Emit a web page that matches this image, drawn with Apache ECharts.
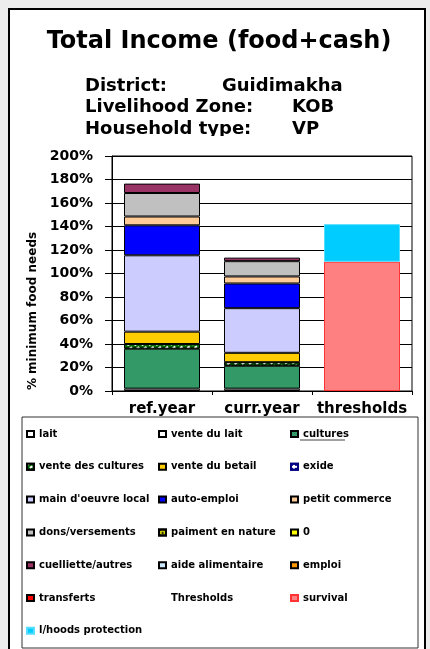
<!DOCTYPE html>
<html>
<head>
<meta charset="utf-8">
<style>
  html, body { margin: 0; padding: 0; background: #ececec; }
  #main { width: 430px; height: 649px; }
</style>
</head>
<body>
<div id="main"></div>
<script src="https://cdn.jsdelivr.net/npm/echarts@6/dist/echarts.min.js"></script>
<script type="text/javascript">

    // categories
    var categories = ['ref.year', 'curr.year', 'thresholds'];
    var yTicks = [0, 20, 40, 60, 80, 100, 120, 140, 160, 180, 200];

    // series values (% minimum food needs)
    var lait              = [2, 2, 0];
    var venteDuLait       = [0, 0, 0];
    var cultures          = [34, 19.5, 0];
    var venteDesCultures  = [4, 3, 0];
    var venteDuBetail     = [10.5, 8, 0];
    var exide             = [0, 0, 0];
    var mainOeuvreLocal   = [65, 38, 0];
    var autoEmploi        = [25.5, 21, 0];
    var petitCommerce     = [7.5, 6, 0];
    var donsVersements    = [20, 13, 0];
    var paimentEnNature   = [0, 0, 0];
    var zero              = [0, 0, 0];
    var cuelliette        = [8, 3, 0];
    var aideAlimentaire   = [0, 0, 0];
    var emploi            = [0, 0, 0];
    var transferts        = [0, 0, 0];
    var survival          = [0, 0, 110];
    var lhoodsProtection  = [0, 0, 32];

    var FONT = 'DejaVu Sans';

    // empty segments are not drawn
    function clean(arr){
        return arr.map(function(v){ return v === 0 ? '-' : v; });
    }

    function bar(name, data, color, extra){
        var s = {
            name: name,
            type: 'bar',
            stack: 'total',
            barCategoryGap: '24%',
            data: clean(data),
            itemStyle: { color: color, borderColor: '#000', borderWidth: 1 }
        };
        if (extra) {
            for (var k in extra) s.itemStyle[k] = extra[k];
        }
        return s;
    }

    var series = [
        bar('lait', lait, '#ffffff'),
        bar('vente du lait', venteDuLait, '#ffffff'),
        bar('cultures', cultures, '#339966'),
        bar('vente des cultures', venteDesCultures, '#006600', {
            decal: { symbol: 'rect', symbolSize: 1, color: '#ffffff', dashArrayX: [[3, 3]], dashArrayY: [2, 2], rotation: -0.6 }
        }),
        bar('vente du betail', venteDuBetail, '#ffcc00'),
        bar('exide', exide, '#ffffff', { borderColor: '#000080',
            decal: { symbol: 'rect', symbolSize: 1, color: '#000080', dashArrayX: [[2, 2]], dashArrayY: [2, 2] }
        }),
        bar("main d'oeuvre local", mainOeuvreLocal, '#ccccff'),
        bar('auto-emploi', autoEmploi, '#0000ff'),
        bar('petit commerce', petitCommerce, '#ffcc99'),
        bar('dons/versements', donsVersements, '#c0c0c0'),
        bar('paiment en nature', paimentEnNature, '#cccc00', {
            decal: { symbol: 'rect', symbolSize: 1, color: '#333300', dashArrayX: [[2, 2]], dashArrayY: [2, 2], rotation: -0.6 }
        }),
        bar('0', zero, '#ffff00'),
        bar('cuelliette/autres', cuelliette, '#993366'),
        bar('aide alimentaire', aideAlimentaire, '#cce8ff'),
        bar('emploi', emploi, '#ff9900'),
        bar('transferts', transferts, '#ff0000'),
        { name: 'Thresholds', type: 'bar', stack: 'total', data: [] },
        bar('survival', survival, '#ff8080', { borderColor: '#ff3333' }),
        bar('l/hoods protection', lhoodsProtection, '#00ccff', { borderColor: '#55ddff' })
    ];

    var legendText = { fontFamily: FONT, fontWeight: 'bold', fontSize: 10, color: '#000', lineHeight: 12 };
    function legendCol(left, names){
        return {
            orient: 'vertical',
            left: left,
            top: 428,
            padding: 0,
            itemGap: 20.8,
            itemWidth: 7,
            itemHeight: 6,
            textStyle: legendText,
            selectedMode: false,
            data: names.map(function(n){
                return n === 'Thresholds' ? { name: n, icon: 'none' } : { name: n, icon: 'rect' };
            })
        };
    }

    var myChart = echarts.init(document.getElementById('main'));

    var option = {
        backgroundColor: '#ececec',
        animation: false,
        grid: {
            left: 112, right: 18, top: 156, bottom: 258,
            show: true, backgroundColor: '#ffffff', borderColor: '#000', borderWidth: 1
        },
        xAxis: {
            type: 'category',
            data: categories,
            axisLine: { lineStyle: { color: '#000', width: 1 } },
            axisTick: { show: true, length: 4, lineStyle: { color: '#000' } },
            axisLabel: { interval: 0, hideOverlap: false, margin: 11, fontFamily: FONT, fontWeight: 'bold', fontSize: 15, color: '#000' }
        },
        yAxis: {
            type: 'value',
            min: yTicks[0],
            max: yTicks[yTicks.length - 1],
            interval: 20,
            axisLine: { show: true, lineStyle: { color: '#000', width: 1 } },
            axisTick: { show: true, length: 7, lineStyle: { color: '#000' } },
            splitLine: { lineStyle: { color: '#000', width: 1 } },
            axisLabel: {
                margin: 19, fontFamily: FONT, fontWeight: 'bold', fontSize: 14, color: '#000',
                formatter: function(v){ return v + '%'; }
            }
        },
        legend: [
            legendCol(26, ['lait', 'vente des cultures', "main d'oeuvre local", 'dons/versements', 'cuelliette/autres', 'transferts', 'l/hoods protection']),
            legendCol(158, ['vente du lait', 'vente du betail', 'auto-emploi', 'paiment en nature', 'aide alimentaire', 'Thresholds']),
            legendCol(290, ['cultures', 'exide', 'petit commerce', '0', 'emploi', 'survival'])
        ],
        graphic: [
            // chart frame
            { type: 'rect', z: -10, silent: true, shape: { x: 9, y: 9, width: 416, height: 660 },
              style: { fill: '#ffffff', stroke: '#000', lineWidth: 2 } },
            // legend box
            { type: 'rect', z: -5, silent: true, shape: { x: 22, y: 417, width: 396, height: 231 },
              style: { fill: '#ffffff', stroke: '#333', lineWidth: 1 } },
            // title
            { type: 'text', x: 219, y: 42, style: { text: 'Total Income (food+cash)', font: 'bold 24px "DejaVu Sans"', fill: '#000', textAlign: 'center', textVerticalAlign: 'middle' } },
            { type: 'text', x: 85, y: 86, style: { text: 'District:', font: 'bold 18px "DejaVu Sans"', fill: '#000', textVerticalAlign: 'middle' } },
            { type: 'text', x: 222, y: 86, style: { text: 'Guidimakha', font: 'bold 18px "DejaVu Sans"', fill: '#000', textVerticalAlign: 'middle' } },
            { type: 'text', x: 85, y: 107.5, style: { text: 'Livelihood Zone:', font: 'bold 18px "DejaVu Sans"', fill: '#000', textVerticalAlign: 'middle' } },
            { type: 'text', x: 292, y: 107.5, style: { text: 'KOB', font: 'bold 18px "DejaVu Sans"', fill: '#000', textVerticalAlign: 'middle' } },
            { type: 'text', x: 85, y: 129.5, style: { text: 'Household type:', font: 'bold 18px "DejaVu Sans"', fill: '#000', textVerticalAlign: 'middle' } },
            { type: 'text', x: 292, y: 129.5, style: { text: 'VP', font: 'bold 18px "DejaVu Sans"', fill: '#000', textVerticalAlign: 'middle' } },
            // subtitle text box clip
            { type: 'rect', z: 10, silent: true, shape: { x: 80, y: 136, width: 260, height: 14 }, style: { fill: '#ffffff' } },
            // y axis name
            { type: 'text', x: 33, y: 311, rotation: Math.PI / 2,
              style: { text: '% minimum food needs', font: 'bold 12px "DejaVu Sans"', fill: '#000', textAlign: 'center', textVerticalAlign: 'middle' } },
            // underline on the cultures legend entry
            { type: 'line', silent: true, shape: { x1: 300, y1: 440, x2: 345, y2: 440 }, style: { stroke: '#444', lineWidth: 1 } }
        ],
        series: series
    };

    myChart.setOption(option);
</script>
</body>
</html>
